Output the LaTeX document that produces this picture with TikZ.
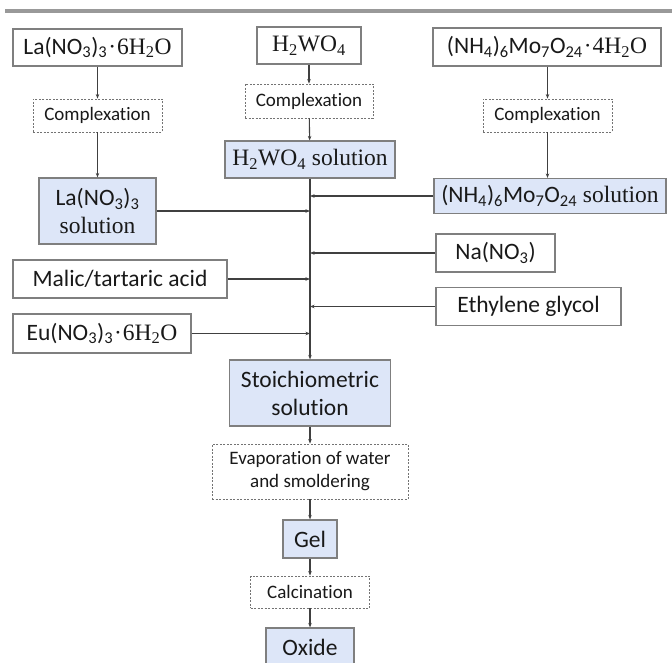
\documentclass[tikz,border=0pt]{standalone}
\usepackage{fontspec}
\setmainfont{Carlito}[Ligatures=NoCommon]
\newfontfamily\tms{Liberation Serif}
\usetikzlibrary{arrows.meta}
\newcommand{\chsub}[1]{\textsubscript{#1}}
\newcommand{\mainsize}{\fontsize{23.5}{28}\selectfont}
\newcommand{\stepsize}{\fontsize{19}{23}\selectfont}
\definecolor{solblue}{HTML}{DDE6F8}
\definecolor{boxgray}{HTML}{7F7F7F}
\definecolor{linegray}{HTML}{404040}

\begin{document}
\begin{tikzpicture}[x=1pt, y=-1pt,
  box/.style={draw=boxgray, line width=1.2pt, fill=white, inner sep=0pt, align=center, text=black!90, font=\mainsize},
  solbox/.style={box, fill=solblue},
  stepbox/.style={box, draw=black!55, line width=0.9pt, dash pattern=on 2pt off 1.5pt, font=\stepsize},
  arr/.style={draw=linegray, line width=1.1pt, -{Stealth[length=4.5pt, width=3.5pt]}}]
\path[use as bounding box, fill=white] (0,0) rectangle (672,663);
\draw[line width=4pt, black!40] (5,11) -- (672,11);

% raw materials
\node[box, minimum width=169pt, minimum height=37pt] (la6) at (97.5,47.5) {La(NO\chsub{3})\chsub{3}{\tms\kern1pt·\kern1pt6H\chsub{2}O}};
\node[box, minimum width=104pt, minimum height=37pt] (hw) at (309,45.5) {\tms H\chsub{2}WO\chsub{4}};
\node[box, minimum width=228pt, minimum height=38pt] (nh4) at (547,47) {(NH\chsub{4})\chsub{6}Mo\chsub{7}O\chsub{24}{\tms\kern1pt·\kern1pt4H\chsub{2}O}};

% complexation
\node[stepbox, minimum width=129pt, minimum height=33pt] (cxl) at (97.5,115.5) {Complexation};
\node[stepbox, minimum width=128pt, minimum height=34pt] (cxm) at (309,101) {Complexation};
\node[stepbox, minimum width=129pt, minimum height=33pt] (cxr) at (547.5,115.5) {Complexation};

% solutions
\node[solbox, minimum width=170pt, minimum height=37pt] (hwsol) at (310,159.5) {\tms H\chsub{2}WO\chsub{4} solution};
\node[solbox, minimum width=117pt, minimum height=66pt] (lasol) at (97.5,211) {La(NO\chsub{3})\chsub{3}\\{\tms solution}};
\node[solbox, minimum width=232pt, minimum height=35pt] (nhsol) at (550,196) {(NH\chsub{4})\chsub{6}Mo\chsub{7}O\chsub{24}{\tms\ solution}};

% additives
\node[box, minimum width=119pt, minimum height=38pt] (na) at (495.5,253) {Na(NO\chsub{3})};
\node[box, minimum width=214pt, minimum height=38pt] (malic) at (120,279) {Malic/tartaric acid};
\node[box, minimum width=185pt, minimum height=38pt] (eth) at (528.5,306.5) {Ethylene glycol};
\node[box, minimum width=178pt, minimum height=39pt] (eu) at (102,333.5) {Eu(NO\chsub{3})\chsub{3}{\tms\kern1pt·\kern1pt6H\chsub{2}O}};

% main line
\node[solbox, minimum width=161pt, minimum height=66pt] (stoi) at (310,393) {Stoichiometric\\solution};
\node[stepbox, minimum width=196pt, minimum height=55pt] (evap) at (310,471.5) {Evaporation of water\\and smoldering};
\node[solbox, minimum width=54pt, minimum height=38pt] (gel) at (310,539) {Gel};
\node[stepbox, minimum width=119pt, minimum height=32pt] (calc) at (310,592) {Calcination};
\node[solbox, minimum width=88pt, minimum height=38pt] (oxide) at (310,647) {Oxide};

\draw[arr] (la6) -- (cxl);
\draw[arr] (cxl) -- (lasol);
\draw[arr] (hw) -- (cxm);
\draw[arr] (cxm) -- (hwsol);
\draw[arr] (nh4.south -| cxr) -- (cxr);
\draw[arr] (cxr) -- (cxr |- nhsol.north);
\draw[arr] (hwsol) -- (stoi);
\draw[arr] (lasol.east) -- (lasol.east -| hwsol.south);
\draw[arr] (nhsol.west) -- (nhsol.west -| hwsol.south);
\draw[arr] (na.west) -- (na.west -| hwsol.south);
\draw[arr] (malic.east) -- (malic.east -| hwsol.south);
\draw[arr] (eth.west) -- (eth.west -| hwsol.south);
\draw[arr] (eu.east) -- (eu.east -| hwsol.south);
\draw[arr] (stoi) -- (evap);
\draw[arr] (evap) -- (gel);
\draw[arr] (gel) -- (calc);
\draw[arr] (calc) -- (oxide);
\end{tikzpicture}
\end{document}
